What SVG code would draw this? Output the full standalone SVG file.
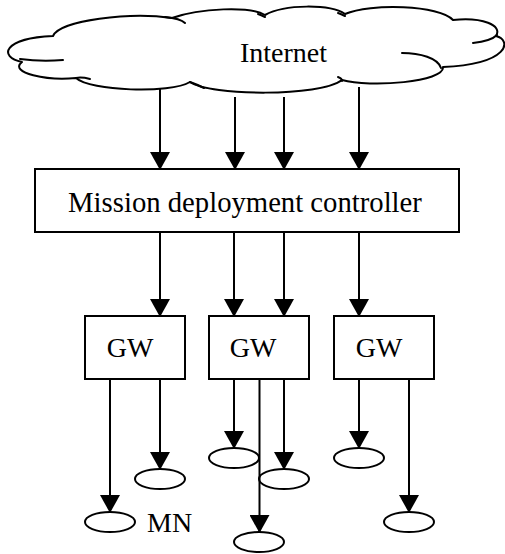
<svg xmlns="http://www.w3.org/2000/svg" width="505" height="554" viewBox="0 0 505 554">
  <style>
    .box { fill: #fff; stroke: #000; stroke-width: 2; }
    .cloud { fill: #fff; stroke: #000; stroke-width: 2; stroke-linejoin: round; }
    .tail { fill: none; stroke: #000; stroke-width: 2; stroke-linecap: round; }
    .node { fill: #fff; stroke: #000; stroke-width: 2; }
    .link { stroke: #000; stroke-width: 2; fill: none; marker-end: url(#arrow); }
    .label { font-family: 'Liberation Serif', 'Times New Roman', Times, serif; font-size: 28px; fill: #000; }
  </style>
  <defs>
    <marker id="arrow" markerUnits="userSpaceOnUse" viewBox="0 0 18 20" refX="17" refY="10" markerWidth="18" markerHeight="20" orient="auto">
      <path d="M0,0 L18,10 L0,20 Z" fill="#000"/>
    </marker>
  </defs>

  <g id="internet">
    <path class="cloud" d="M53,36 C60,20 130,12 172,18 C200,8 250,6 265,15 C285,4 330,4 345,14 C370,3 440,5 453,20 C482,17 503,25 496,36 C512,40 510,64 443,67 C445,82 370,88 342,80 C320,97 210,96 190,82 C170,94 90,91 76,78 C48,81 8,73 22,62 C-2,57 3,38 53,36 Z"/>
    <path class="tail" d="M165,17 C175,18 182,20 185,23"/>
    <path class="tail" d="M258,14 C261,15 263,16 265,17"/>
    <path class="tail" d="M338,13 C341,14 343,15 345,16"/>
    <path class="tail" d="M497,35 C492,40 482,42 473,43"/>
    <path class="tail" d="M402,53 C420,53 438,58 441,68"/>
    <path class="tail" d="M342,81 C342,79 341,78 338,77"/>
    <path class="tail" d="M190,82 C196,84 200,86 204,88"/>
    <path class="tail" d="M76,78 C81,77 86,78 90,79"/>
    <path class="tail" d="M20,59 C35,61 50,61 63,60"/>
    <text class="label" x="283.5" y="62" text-anchor="middle">Internet</text>
  </g>

  <g id="controller">
    <rect class="box" x="35" y="169" width="424" height="63"/>
    <text class="label" x="245" y="212" text-anchor="middle" style="font-size:28.7px">Mission deployment controller</text>
  </g>

  <g id="gw1">
    <rect class="box" x="85" y="316" width="100" height="63"/>
    <text class="label" x="130" y="357" text-anchor="middle">GW</text>
  </g>
  <g id="gw2">
    <rect class="box" x="209" y="316" width="100" height="63"/>
    <text class="label" x="253" y="357" text-anchor="middle">GW</text>
  </g>
  <g id="gw3">
    <rect class="box" x="334" y="316" width="100" height="63"/>
    <text class="label" x="379" y="357" text-anchor="middle">GW</text>
  </g>

  <g id="mn1"><ellipse class="node" cx="110" cy="522" rx="25" ry="10"/></g>
  <g id="mn2"><ellipse class="node" cx="160" cy="479" rx="25" ry="10"/></g>
  <g id="mn3"><ellipse class="node" cx="234" cy="458" rx="25" ry="10"/></g>
  <g id="mn4"><ellipse class="node" cx="284" cy="479" rx="25" ry="10"/></g>
  <g id="mn5"><ellipse class="node" cx="259" cy="542" rx="25" ry="10"/></g>
  <g id="mn6"><ellipse class="node" cx="359" cy="458" rx="25" ry="10"/></g>
  <g id="mn7"><ellipse class="node" cx="409" cy="522" rx="25" ry="10"/></g>
  <text class="label" x="147" y="532">MN</text>

  <g id="connectors">
    <!-- Internet to controller -->
    <line class="link" x1="160" y1="88" x2="160" y2="169"/>
    <line class="link" x1="235" y1="97" x2="235" y2="169"/>
    <line class="link" x1="284" y1="97" x2="284" y2="169"/>
    <line class="link" x1="359" y1="87" x2="359" y2="169"/>
    <!-- controller to gateways -->
    <line class="link" x1="160" y1="232" x2="160" y2="316"/>
    <line class="link" x1="234" y1="232" x2="234" y2="316"/>
    <line class="link" x1="284" y1="232" x2="284" y2="316"/>
    <line class="link" x1="359" y1="232" x2="359" y2="316"/>
    <!-- gateways to mobile nodes -->
    <line class="link" x1="110" y1="379" x2="110" y2="512"/>
    <line class="link" x1="160" y1="379" x2="160" y2="469"/>
    <line class="link" x1="234" y1="379" x2="234" y2="448"/>
    <line class="link" x1="284" y1="379" x2="284" y2="469"/>
    <line class="link" x1="259.5" y1="379" x2="259.5" y2="532"/>
    <line class="link" x1="359" y1="379" x2="359" y2="448"/>
    <line class="link" x1="409" y1="379" x2="409" y2="512"/>
  </g>
</svg>
